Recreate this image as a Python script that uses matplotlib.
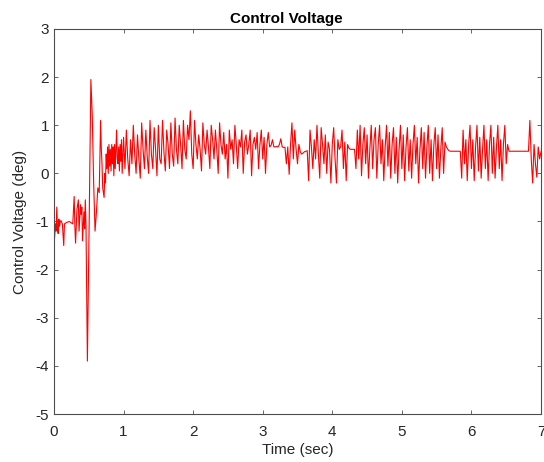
import matplotlib.pyplot as plt
import numpy as np

plt.rcParams['font.family'] = ['Liberation Sans', 'DejaVu Sans']
plt.rcParams['axes.unicode_minus'] = False

# start-up transient (time, value)
t_start = [0.00, 0.01, 0.02, 0.03, 0.04, 0.05, 0.06, 0.07, 0.08, 0.09,
           0.10, 0.12, 0.14, 0.15, 0.18, 0.22, 0.25, 0.27, 0.29, 0.30,
           0.31, 0.33, 0.35, 0.36, 0.38, 0.39, 0.40, 0.41, 0.43, 0.44,
           0.45, 0.46, 0.48, 0.51, 0.53, 0.55, 0.57, 0.59, 0.61, 0.63,
           0.65, 0.66, 0.67, 0.68, 0.69, 0.70, 0.72, 0.73, 0.74, 0.75,
           0.76, 0.77, 0.78, 0.79, 0.80, 0.81, 0.82, 0.83, 0.84, 0.85,
           0.86, 0.87, 0.88, 0.89, 0.90, 0.91, 0.92, 0.93, 0.94, 0.95,
           0.96, 0.97, 0.98, 1.00]
v_start = [-1.50, -1.30, -1.05, -1.20, -0.70, -1.15, -1.25, -0.95, -1.10, -1.00,
           -0.98, -1.05, -1.50, -1.05, -1.02, -1.00, -1.03, -1.05, -0.48, -1.10,
           -1.45, -0.75, -0.55, -1.20, -0.65, -0.85, -0.70, -1.40, -0.80, -1.15,
           -0.55, -1.10, -3.90, -0.50, 1.95, 1.20, -0.20, -1.20, -0.80, -0.30,
           -0.40, 0.30, 1.10, 0.50, 0.20, -0.30, -0.50, 0.00, -0.20, 0.40,
           0.10, 0.55, 0.00, 0.60, 0.15, 0.50, 0.05, 0.60, 0.20, 0.55,
           -0.05, 0.60, 0.10, 0.50, 0.90, 0.30, 0.20, 0.55, 0.05, 0.60,
           0.25, 0.70, 0.00, 0.75]

# rest of the run, sampled every 0.02 s from 1.02 s to 7.00 s
dt = 0.02
v_run = [
    0.10, 0.90, 0.30, -0.05, 0.70, 0.20, 1.00, 0.40, 0.00, 0.80,
    0.30, -0.10, 1.05, 0.50, 0.10, 0.90, 0.35, 0.00, 1.10, 0.40,
    0.10, 0.95, 0.50, -0.05, 1.00, 0.30, 0.20, 1.10, 0.45, 0.05,
    0.90, 0.60, 0.10, 1.05, 0.40, 0.15, 1.15, 0.50, 0.20, 1.00,
    0.60, 0.10, 1.10, 0.50, 0.30, 1.00, 0.70, 1.30, 0.40, 0.10,
    1.10, 0.60, 0.30, 0.80, 0.50, 0.05, 1.05, 0.60, 0.40, 0.90,
    0.55, 0.10, 1.00, 0.70, 0.30, 0.90, 0.50, 0.00, 1.05, 0.60,
    0.40, 0.85, 0.30, 0.60, -0.10, 0.90, 0.50, 0.70, 0.20, 1.00,
    0.60, 0.10, 0.70, 0.55, 0.90, 0.00, 0.65, 0.80, 0.40, 0.60,
    0.90, -0.05, 0.60, 0.75, 0.50, 0.85, 0.10, 0.60, 0.90, 0.30,
    0.75, 0.00, 0.60, 0.85, 0.55, 0.58, 0.70, 0.55, 0.55, 0.56,
    0.55, 0.60, 0.72, 0.55, 0.54, 0.54, 0.20, 0.55, -0.02, 0.60,
    1.05, 0.30, 0.90, 0.50, 0.20, 0.60, 0.45, 0.40, 0.42, 0.45,
    0.46, 0.47, -0.15, 0.90, 0.55, 0.10, 0.70, 0.30, 1.00, 0.40,
    -0.10, 0.95, 0.60, 0.20, 0.80, 0.00, 0.65, 0.50, -0.20, 0.60,
    0.95, 0.30, -0.20, 0.70, 0.50, 0.55, 0.90, 0.10, 0.65, -0.15,
    0.60, 0.52, 0.50, 0.50, 0.50, 0.50, 0.10, 0.90, 0.30, 1.00,
    -0.05, 0.60, 0.95, 0.20, 0.80, -0.10, 0.50, 1.00, 0.10, 0.70,
    0.95, -0.10, 0.60, 1.00, 0.20, 0.70, -0.15, 0.55, 1.00, 0.15,
    0.85, -0.10, 0.60, 0.95, 0.00, 0.75, -0.20, 0.50, 1.00, 0.10,
    0.80, -0.15, 0.55, 0.95, 0.05, 0.70, -0.10, 0.60, 1.00, 0.20,
    0.75, -0.20, 0.50, 0.95, 0.10, 0.85, -0.10, 0.55, 1.00, 0.00,
    0.70, -0.15, 0.60, 0.95, 0.10, 0.80, -0.10, 0.50, 0.95, 0.00,
    0.65, 0.55, 0.50, 0.47, 0.46, 0.46, 0.46, 0.46, 0.46, 0.46,
    0.46, 0.46, -0.10, 0.90, 0.20, 0.70, -0.15, 0.60, 1.00, 0.10,
    0.70, -0.15, 0.55, 1.00, 0.05, 0.75, -0.10, 0.50, 1.00, 0.10,
    0.70, -0.15, 0.60, 1.00, 0.00, 0.75, -0.10, 0.55, 1.00, 0.10,
    0.70, -0.15, 0.60, 1.00, 0.20, 0.60, 0.46, 0.46, 0.46, 0.46,
    0.46, 0.46, 0.46, 0.46, 0.46, 0.46, 0.46, 0.46, 0.46, 0.46,
    0.46, 1.10, 0.30, -0.20, 0.60, 0.20, -0.08, 0.55, 0.30, 0.45,
]

t_run = 1.0 + dt * np.arange(1, len(v_run) + 1)
t = np.concatenate([t_start, t_run])
v = np.concatenate([v_start, v_run])

x_ticks = [0, 1, 2, 3, 4, 5, 6, 7]
y_ticks = [-5, -4, -3, -2, -1, 0, 1, 2, 3]

fig = plt.figure(figsize=(5.44, 4.62), dpi=100, facecolor='white')
ax = fig.add_axes([54 / 544, 1 - 414 / 462, 487 / 544, 385 / 462])

ax.plot(t, v, color='#ff0000', linewidth=0.8)

ax.set_xlim(0, 7)
ax.set_ylim(-5, 3)
ax.set_xticks(x_ticks)
ax.set_yticks(y_ticks)

axis_col = '#4d4d4d'
for s in ax.spines.values():
    s.set_color(axis_col)
    s.set_linewidth(0.8)
ax.tick_params(direction='in', length=3, width=0.6, colors=axis_col,
               labelcolor='#262626', labelsize=11, top=True, right=True,
               labeltop=False, labelright=False)
ax.tick_params(axis='x', pad=8)

ax.set_xlabel('Time (sec)', fontsize=11, color='#262626', labelpad=3)
ax.set_ylabel('Control Voltage (deg)', fontsize=11, color='#262626', labelpad=6)
ax.set_title('Control Voltage', fontsize=11, fontweight='bold', x=0.478, pad=4)

fig.savefig('out.png', dpi=100, facecolor='white')
